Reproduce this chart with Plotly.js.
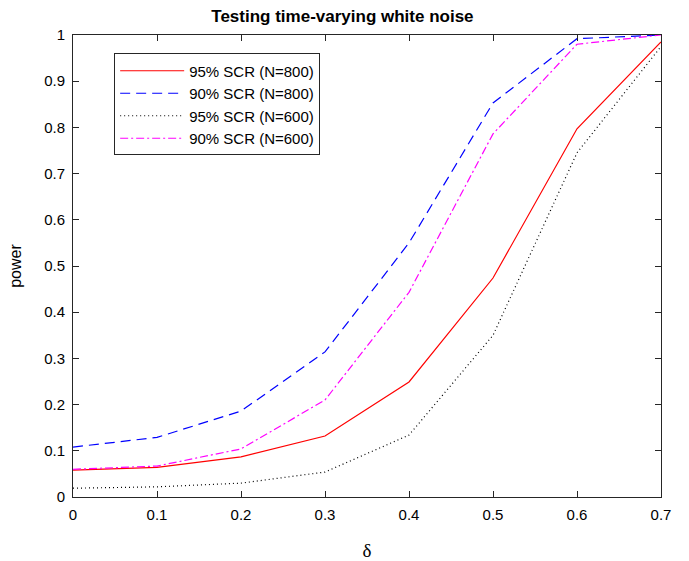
<!DOCTYPE html>
<html>
<head>
<meta charset="utf-8">
<script src="https://cdn.plot.ly/plotly-3.0.1.min.js"></script>
<style>html,body{margin:0;padding:0;background:#fff;}#chart{width:689px;height:561px;}</style>
</head>
<body>
<div id="chart"></div>
<script>
const delta = [0, 0.1, 0.2, 0.3, 0.4, 0.5, 0.6, 0.7];
const scr95_800 = [0.058, 0.064, 0.087, 0.132, 0.249, 0.474, 0.797, 0.985];
const scr90_800 = [0.108, 0.129, 0.186, 0.314, 0.550, 0.853, 0.992, 1.0];
const scr95_600 = [0.019, 0.022, 0.030, 0.054, 0.134, 0.350, 0.745, 0.975];
const scr90_600 = [0.060, 0.067, 0.104, 0.210, 0.443, 0.786, 0.980, 1.0];
const seriesNames = ['95% SCR (N=800)', '90% SCR (N=800)', '95% SCR (N=600)', '90% SCR (N=600)'];
const xTicks = [0, 0.1, 0.2, 0.3, 0.4, 0.5, 0.6, 0.7];
const yTicks = [0, 0.1, 0.2, 0.3, 0.4, 0.5, 0.6, 0.7, 0.8, 0.9, 1];

const traces = [
  {x: delta, y: scr95_800, name: seriesNames[0], mode: 'lines', line: {color: '#ff0000', width: 1.2, dash: 'solid'}},
  {x: delta, y: scr90_800, name: seriesNames[1], mode: 'lines', line: {color: '#0000ff', width: 1.2, dash: '10px,6px'}},
  {x: delta, y: scr95_600, name: seriesNames[2], mode: 'lines', line: {color: '#000000', width: 1.2, dash: '1px,3px'}},
  {x: delta, y: scr90_600, name: seriesNames[3], mode: 'lines', line: {color: '#ff00ff', width: 1.2, dash: '8px,3px,2px,3px'}}
];

const axisCommon = {
  showline: true, linecolor: '#262626', linewidth: 1, mirror: 'ticks',
  ticks: 'inside', ticklen: 6, tickcolor: '#262626', showgrid: false, zeroline: false,
  tickfont: {family: 'Liberation Sans, Arial, sans-serif', size: 15, color: '#000'}
};

const layout = {
  width: 689, height: 561,
  margin: {l: 73, r: 28, t: 35, b: 64},
  paper_bgcolor: '#fff', plot_bgcolor: '#fff',
  title: {text: '<b>Testing time-varying white noise</b>', x: 0.497, xanchor: 'center', y: 0.972, yanchor: 'middle',
          font: {family: 'Liberation Sans, Arial, sans-serif', size: 17, color: '#000'}},
  xaxis: Object.assign({}, axisCommon, {range: [0, 0.7], tickvals: xTicks, ticktext: xTicks.map(String), ticklabelstandoff: 4,
          title: {text: 'δ', font: {family: 'Liberation Serif, Times New Roman, serif', size: 19, color: '#000'}, standoff: 22}}),
  yaxis: Object.assign({}, axisCommon, {range: [0, 1], tickvals: yTicks, ticktext: yTicks.map(String), ticklabelstandoff: 4,
          title: {text: 'power', font: {family: 'Liberation Sans, Arial, sans-serif', size: 16, color: '#000'}, standoff: 18}}),
  legend: {x: 0.07, y: 0.96, xanchor: 'left', yanchor: 'top', bgcolor: '#fff', bordercolor: '#262626', borderwidth: 1,
           font: {family: 'Liberation Sans, Arial, sans-serif', size: 15, color: '#000'}, tracegroupgap: 0, itemwidth: 64},
  showlegend: true
};

Plotly.newPlot('chart', traces, layout, {displayModeBar: false, staticPlot: true});
</script>
</body>
</html>
